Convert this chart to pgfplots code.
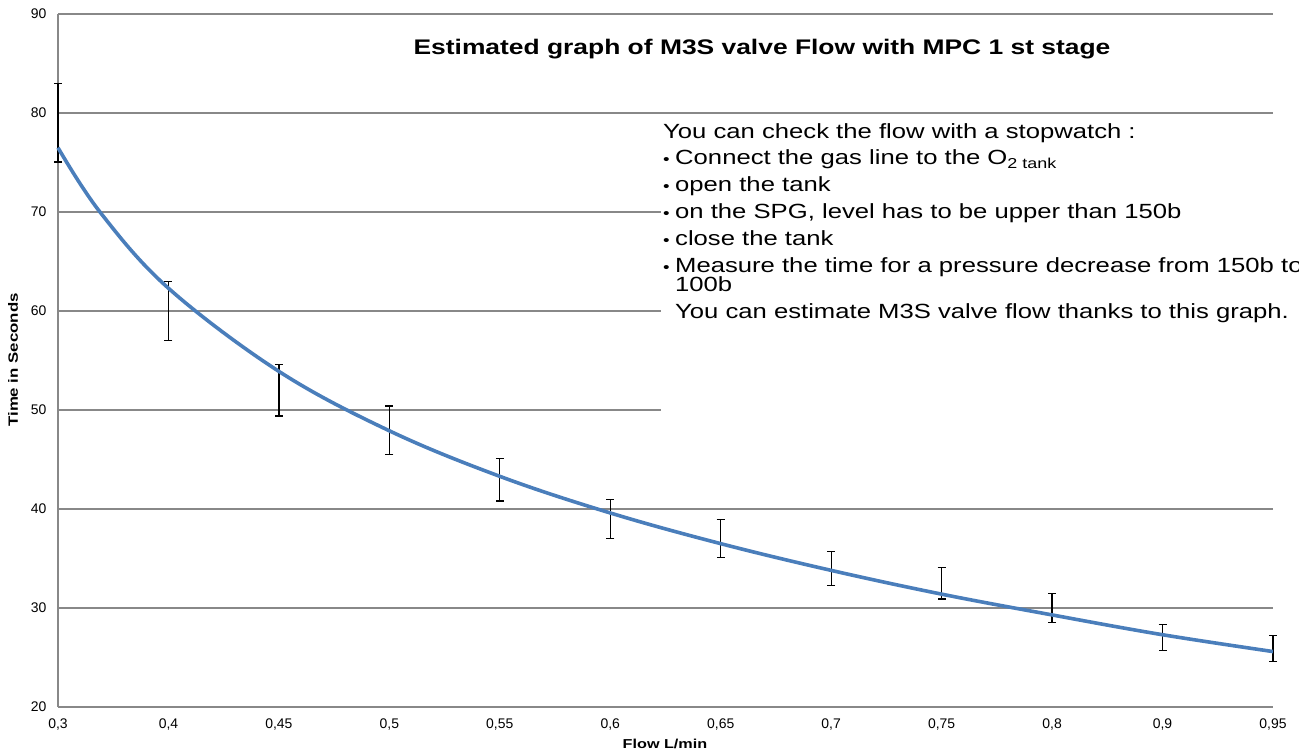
\documentclass[border=0pt]{standalone}
\usepackage{fontspec}
\setmainfont{Liberation Sans}
\newfontfamily\widefont{Liberation Sans}[FakeStretch=1.25]
\usepackage{pgfplots}
\pgfplotsset{compat=1.18}
\usepackage{pgfplotstable}

\definecolor{xlblue}{HTML}{4A7EBB}
\definecolor{xlgrid}{HTML}{888888}

% error bar centres and +/- (hidden points)
\pgfplotstableread{
x  y     e
0  79.0  3.95
1  60.0  3.0
2  52.0  2.6
3  47.95 2.45
4  42.95 2.15
5  39.0  2.0
6  37.0  1.9
7  34.0  1.7
8  32.5  1.6
9  30.0  1.5
10 27.0  1.3
11 25.9  1.3
}\errtab

% smooth curve
\pgfplotstableread{
x    y
0    76.5
0.38 70.0
1    62.3
2    53.9
3    47.9
4    43.3
5    39.6
6    36.5
7    33.8
8    31.4
9    29.3
10   27.3
11   25.6
}\curvetab

\newcommand\bul{\makebox[12bp][l]{\fontsize{15}{15}\selectfont•}}

\begin{document}
\begin{tikzpicture}
\begin{axis}[
    at={(58bp,49bp)}, anchor=south west,
    scale only axis, width=1215bp, height=693bp,
    xmin=0, xmax=11, ymin=20, ymax=90,
    xtick={0,...,11},
    xticklabels={{0,3},{0,4},{0,45},{0,5},{0,55},{0,6},{0,65},{0,7},{0,75},{0,8},{0,9},{0,95}},
    ytick={20,30,...,90},
    axis x line*=bottom, axis y line*=left,
    axis line style={xlgrid, line width=2.2bp, -},
    ymajorgrids, major grid style={xlgrid, line width=1.1bp},
    major tick length=0pt,
    tick label style={font=\fontsize{14}{14}\selectfont},
    /pgf/number format/assume math mode=true,
    xticklabel style={yshift=-8bp},
    yticklabel style={xshift=-8bp},
    clip=false,
]
\addplot[draw=none, mark=none, error bars/.cd, y dir=both, y explicit,
    error bar style={black, line width=1.2bp},
    error mark options={rotate=90, mark size=4bp, line width=1.2bp, black}]
    table[x=x, y=y, y error=e] {\errtab};
\addplot[xlblue, line width=3.6bp, smooth, tension=0.6, mark=none]
    table[x=x, y=y] {\curvetab};
\end{axis}

% white text box covering the grid
\fill[white] (661bp,286bp) rectangle (1320bp,638bp);
\node[anchor=north west, inner sep=0pt, align=left,
      font=\widefont\fontsize{20.6}{27}\selectfont] at (663bp,633bp) {%
You can check the flow with a stopwatch :\\
\bul Connect the gas line to the O\textsubscript{2 tank}\\
\bul open the tank\\
\bul on the SPG, level has to be upper than 150b\\
\bul close the tank\\
\bul Measure the time for a pressure decrease from 150b to\\[-8bp]
\hspace*{12bp}100b\\
\hspace*{12bp}You can estimate M3S valve flow thanks to this graph.};

\node[font=\widefont\bfseries\fontsize{21.2}{25}\selectfont] at (762bp,707bp)
  {Estimated graph of M3S valve Flow with MPC 1 st stage};
\node[font=\widefont\bfseries\fontsize{13}{13}\selectfont] at (665bp,12bp) {Flow L/min};
\node[font=\widefont\bfseries\fontsize{13.5}{13.5}\selectfont, rotate=90] at (13bp,396bp) {Time in Seconds};

\pgfresetboundingbox
\path (0,0) rectangle (1299bp,756bp);
\end{tikzpicture}
\end{document}
